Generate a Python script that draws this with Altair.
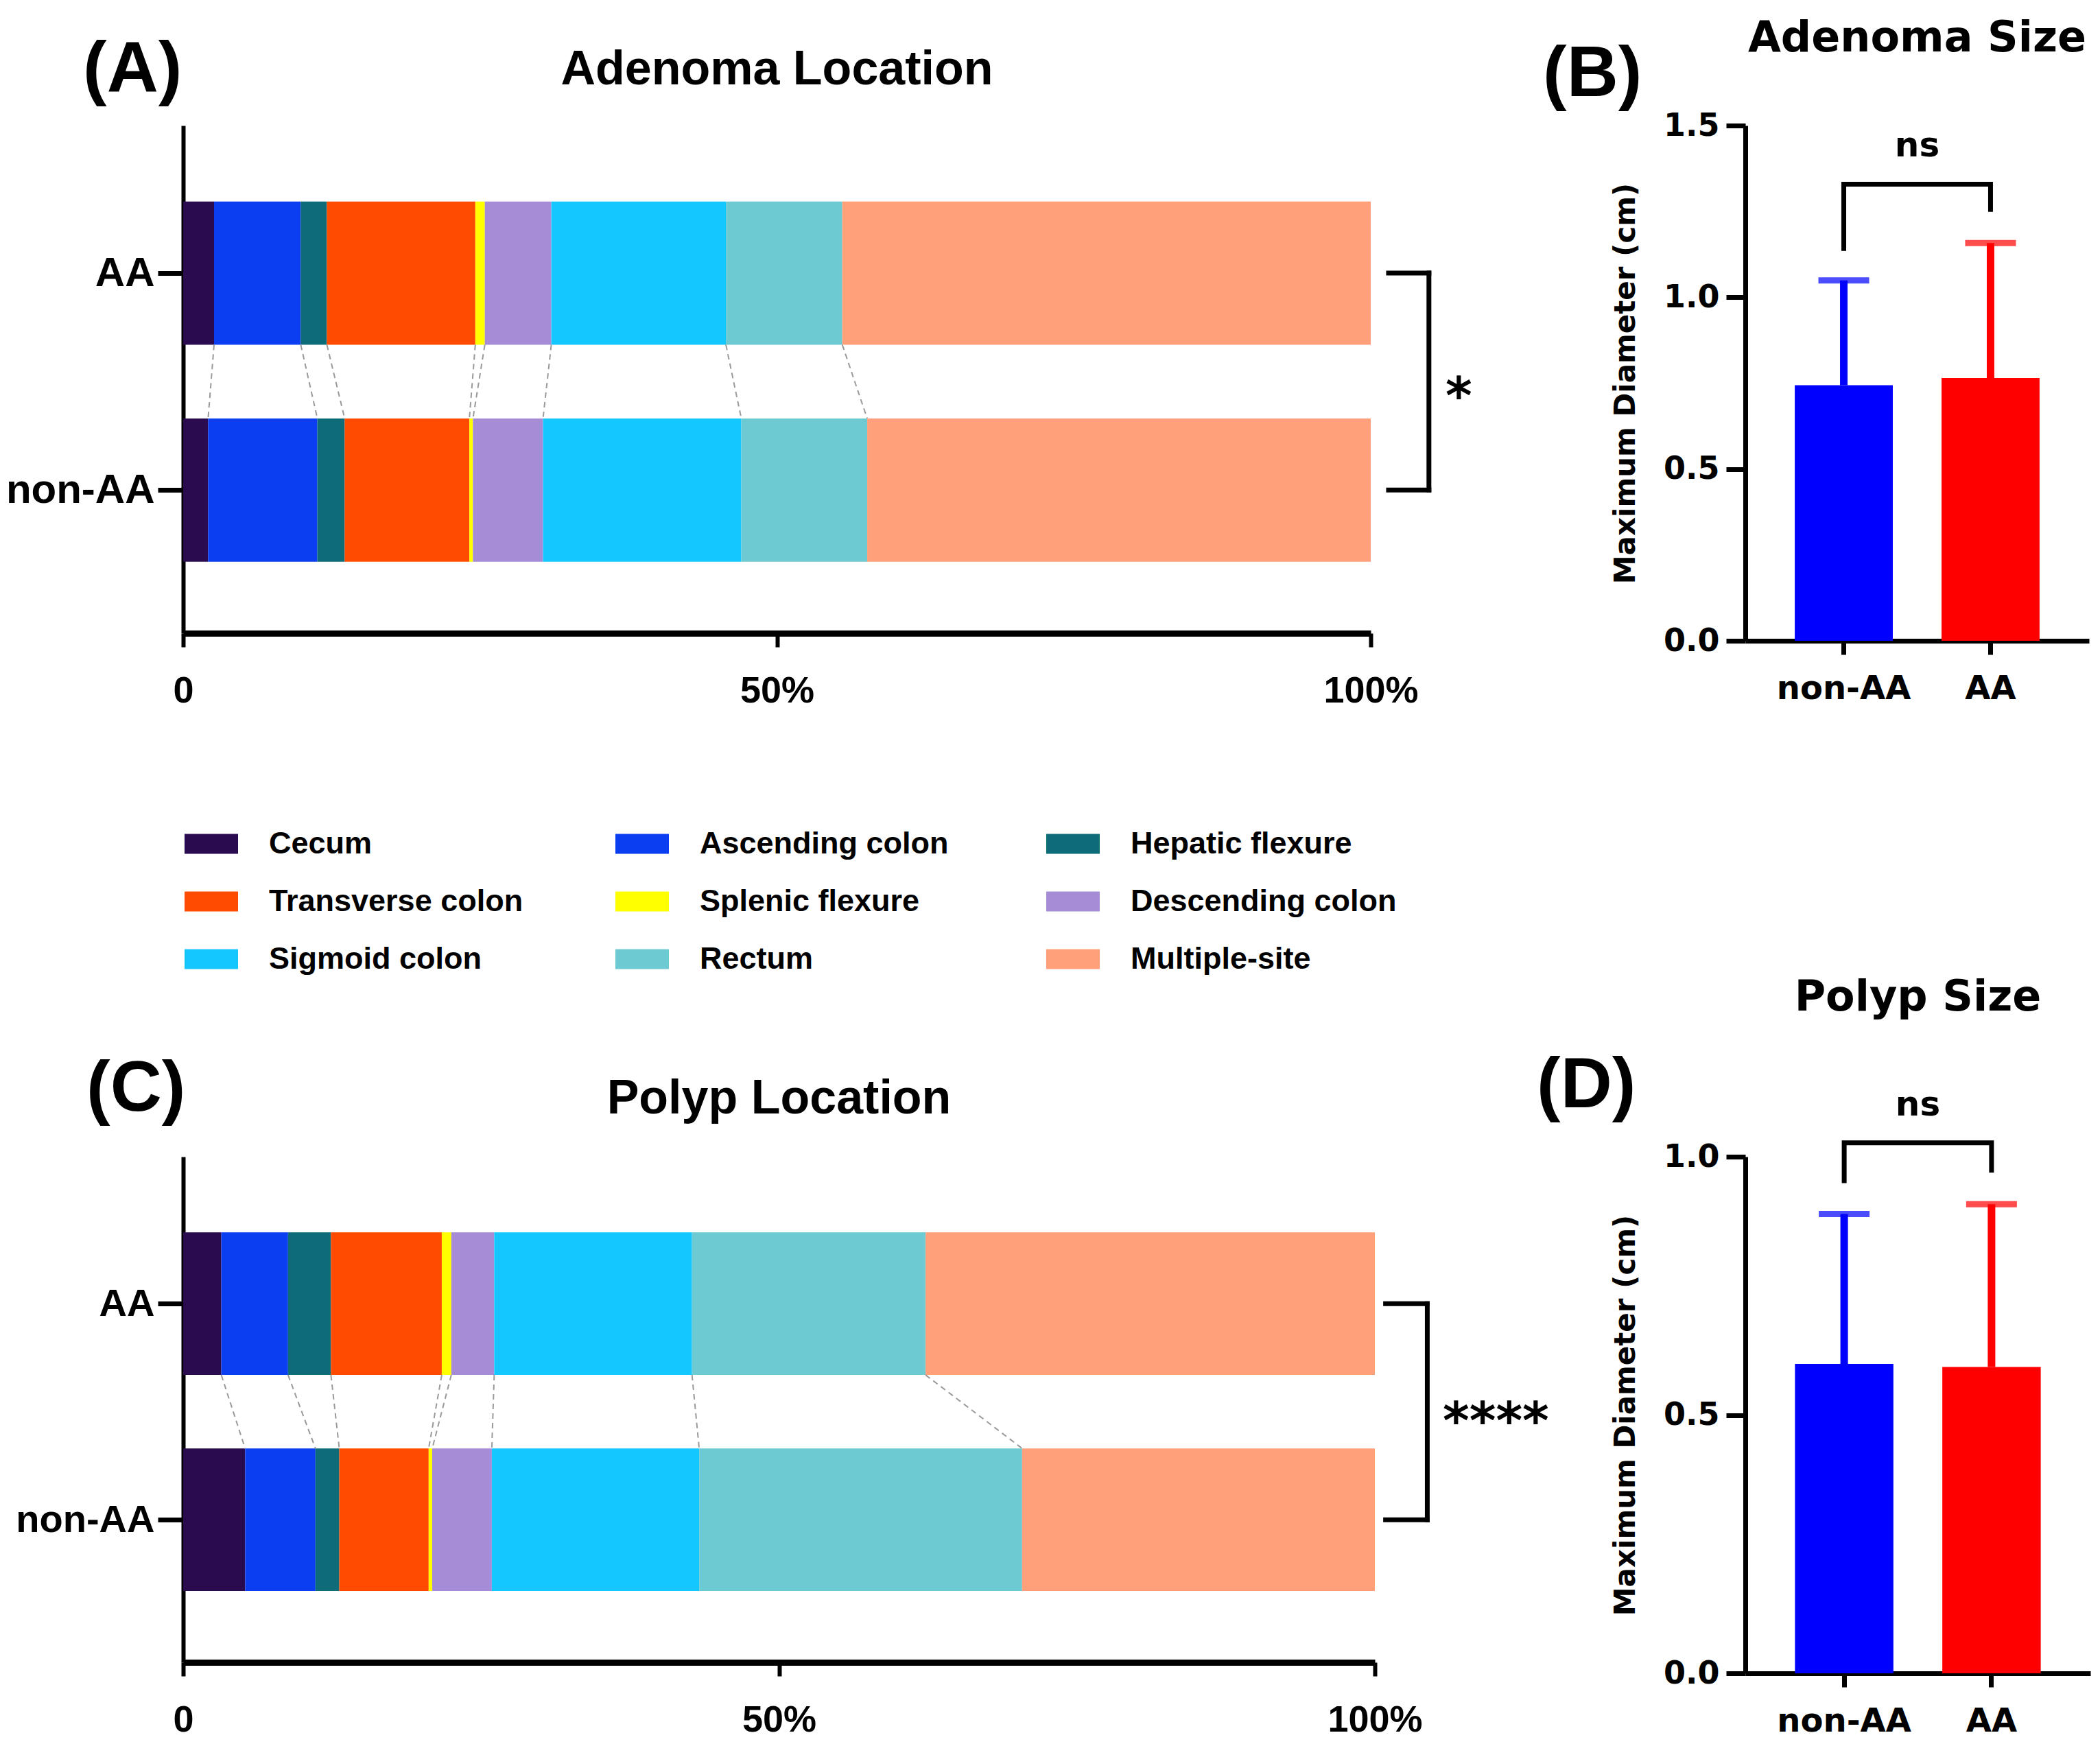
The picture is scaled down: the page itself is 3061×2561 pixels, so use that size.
import altair as alt
import numpy as np
import pandas as pd

# ---------------- data ----------------
locations = ["Cecum", "Ascending colon", "Hepatic flexure", "Transverse colon",
             "Splenic flexure", "Descending colon", "Sigmoid colon", "Rectum", "Multiple-site"]
loc_colors = ["#2a0b50", "#0b3ef0", "#0e6b78", "#ff4b00", "#ffff00",
              "#a68bd6", "#14c8ff", "#6dcad2", "#ffa07a"]

# percentage share of each location
adenoma_aa = [2.6, 7.3, 2.2, 12.5, 0.8, 5.6, 14.7, 9.8, 44.5]
adenoma_non = [2.1, 9.2, 2.3, 10.5, 0.3, 5.9, 16.7, 10.6, 42.4]
polyp_aa = [3.2, 5.6, 3.6, 9.3, 0.8, 3.6, 16.6, 19.6, 37.7]
polyp_non = [5.2, 5.9, 2.0, 7.5, 0.3, 5.0, 17.4, 27.1, 29.6]

size_groups = ["non-AA", "AA"]
bar_colors = ["#0000ff", "#ff0000"]
adenoma_mean = [0.744, 0.765]
adenoma_upper = [1.049, 1.158]
polyp_mean = [0.599, 0.593]
polyp_upper = [0.889, 0.908]
adenoma_legs = [1.135, 1.249]
adenoma_bracket = 1.329
polyp_legs = [0.949, 0.969]
polyp_bracket = 1.027

F_ARIAL = "Liberation Sans"
F_WIDE = "DejaVu Sans"
HALF = 0.33


def text_layer(txt, x, y, font, size, align="left"):
    return alt.Chart(pd.DataFrame(dict(t=[txt]))).mark_text(
        font=font, fontSize=size, fontWeight="bold", align=align,
        baseline="alphabetic", color="black").encode(
        x=alt.value(x), y=alt.value(y), text="t:N")


def location_chart(vals_aa, vals_non, title, title_y, letter, letter_xy,
                   stars, star_x, star_dy, br_x, width, height, legend, label_size):
    rows = []
    for g, pos, vals in [("AA", 2, vals_aa), ("non-AA", 1, vals_non)]:
        cum = 0.0
        for i, (loc, v) in enumerate(zip(locations, vals)):
            rows.append(dict(group=g, location=loc, order=i, start=cum, end=cum + v,
                             lo=pos - HALF, hi=pos + HALF))
            cum += v
    df = pd.DataFrame(rows)
    conn = pd.DataFrame(dict(x=np.cumsum(vals_aa)[:-1], x2=np.cumsum(vals_non)[:-1],
                             y=2 - HALF, y2=1 + HALF))
    brk = pd.DataFrame(dict(x=[br_x[0], br_x[1], br_x[0]], x2=[br_x[1], br_x[1], br_x[1]],
                            y=[2, 2, 1], y2=[2, 1, 1]))

    xs = alt.Scale(domain=[0, 100], nice=False)
    ys = alt.Scale(domain=[0.34, 2.68], nice=False, zero=False)

    bars = alt.Chart(df).mark_rect(strokeWidth=0).encode(
        x=alt.X("start:Q", scale=xs, axis=alt.Axis(
            values=[0, 50, 100], labelExpr="datum.value == 0 ? '0' : datum.value + '%'",
            title=None, grid=False, tickSize=20, tickWidth=6, domainWidth=9,
            labelFontSize=54, labelFont=F_ARIAL, labelFontWeight="bold",
            labelPadding=37, labelFlush=False, labelColor="black", labelLimit=0,
            domainColor="black", tickColor="black")),
        x2="end:Q",
        y=alt.Y("lo:Q", scale=ys, axis=alt.Axis(
            values=[1, 2], labelExpr="datum.value == 2 ? 'AA' : 'non-AA'",
            title=None, grid=False, tickSize=37, tickWidth=7, domainWidth=6,
            labelFontSize=label_size, labelFont=F_ARIAL, labelFontWeight="bold",
            labelPadding=5, labelLimit=0, labelColor="black", domainColor="black",
            tickColor="black")),
        y2="hi:Q",
        color=alt.Color("location:N", scale=alt.Scale(domain=locations, range=loc_colors),
                        legend=legend),
        tooltip=["group:N", "location:N"],
    )
    connectors = alt.Chart(conn).mark_rule(color="#9a9a9a", strokeWidth=2,
                                           strokeDash=[8, 6]).encode(
        x="x:Q", x2="x2:Q", y="y:Q", y2="y2:Q")
    bracket = alt.Chart(brk).mark_rule(color="black", strokeWidth=7, strokeCap="square",
                                       clip=False).encode(
        x="x:Q", x2="x2:Q", y="y:Q", y2="y2:Q")
    star = alt.Chart(pd.DataFrame(dict(t=[stars]))).mark_text(
        font=F_WIDE, fontSize=74, fontWeight="bold", align="left",
        baseline="alphabetic", dy=star_dy, clip=False).encode(
        x=alt.datum(star_x), y=alt.datum(1.5), text="t:N")
    label = text_layer(letter, letter_xy[0], letter_xy[1], F_ARIAL, 104)
    ttl = text_layer(title, width / 2, title_y, F_ARIAL, 70, align="center")

    return alt.layer(bars, connectors, bracket, star, label, ttl).properties(
        width=width, height=height)


def size_chart(means, uppers, legs, bracket_y, ns_y, y_domain, y_values, title,
               title_y, letter, letter_xy, width, height):
    df = pd.DataFrame(dict(group=size_groups, mean=means, upper=uppers))
    xenc = alt.X("group:N", sort=size_groups,
                 scale=alt.Scale(paddingInner=0.332, paddingOuter=0.337),
                 axis=alt.Axis(title=None, labelAngle=0, tickSize=20, tickWidth=7,
                               domainWidth=7, labelFontSize=48, labelFont=F_WIDE,
                               labelFontWeight="bold", labelPadding=26, labelColor="black",
                               labelLimit=0, domainColor="black", tickColor="black"))
    ys = alt.Scale(domain=y_domain, nice=False)
    cenc = alt.Color("group:N", scale=alt.Scale(domain=size_groups, range=bar_colors),
                     legend=None)
    base = alt.Chart(df).encode(x=xenc, color=cenc)
    bars = base.mark_bar().encode(
        y=alt.Y("mean:Q", scale=ys, axis=alt.Axis(
            values=y_values, format=".1f", title="Maximum Diameter (cm)",
            titleFont=F_WIDE, titleFontSize=42, titleFontWeight="bold", titleColor="black",
            titlePadding=33, grid=False, tickSize=28, tickWidth=7, domainWidth=7,
            labelFontSize=46, labelFont=F_WIDE, labelFontWeight="bold", labelPadding=10,
            labelColor="black", domainColor="black", tickColor="black")))
    err = base.mark_rule(strokeWidth=11).encode(y="mean:Q", y2="upper:Q")
    cap = base.mark_tick(thickness=9, size=74).encode(y="upper:Q")

    br = pd.DataFrame(dict(group=["non-AA", "non-AA", "AA", "AA"],
                           y=[legs[0], bracket_y, bracket_y, legs[1]], o=[0, 1, 2, 3]))
    bracket = alt.Chart(br).mark_line(color="black", strokeWidth=7, strokeJoin="miter",
                                      clip=False).encode(
        x=alt.X("group:N", sort=size_groups), y="y:Q", order="o:Q")
    ns = alt.Chart(pd.DataFrame(dict(t=["ns"]))).mark_text(
        font=F_WIDE, fontSize=50, fontWeight="bold", baseline="middle", clip=False).encode(
        x=alt.value(width / 2), y=alt.datum(ns_y), text="t:N")
    label = text_layer(letter, letter_xy[0], letter_xy[1], F_ARIAL, 104)
    ttl = text_layer(title, width / 2, title_y, F_WIDE, 62, align="center")
    return alt.layer(bars, err, cap, bracket, ns, label, ttl).properties(
        width=width, height=height)


legend_a = alt.Legend(
    title=None, orient="none", legendX=2, legendY=1008, columns=3, direction="horizontal",
    gridAlign="all", symbolType="M-1,-0.37L1,-0.37L1,0.37L-1,0.37Z", symbolSize=6084,
    symbolStrokeWidth=0, symbolOpacity=1, labelFont=F_ARIAL, labelFontSize=45,
    labelFontWeight="bold", labelColor="black", labelOffset=45, labelLimit=0,
    columnPadding=117, rowPadding=22, padding=0)

chart_a = location_chart(adenoma_aa, adenoma_non, "Adenoma Location", -60, "(A)", (-146, -50),
                         "*", 106.3, 47, (101.5, 104.9), 1731, 740, legend_a, 60)
chart_b = size_chart(adenoma_mean, adenoma_upper, adenoma_legs, adenoma_bracket, 1.44,
                     [0, 1.5], [0, 0.5, 1.0, 1.5], "Adenoma Size", -108, "(B)", (-295, -43),
                     501, 751)
chart_c = location_chart(polyp_aa, polyp_non, "Polyp Location", -63, "(C)", (-141, -67),
                         "****", 105.7, 39, (100.9, 104.4), 1737, 737, None, 56)
chart_d = size_chart(polyp_mean, polyp_upper, polyp_legs, polyp_bracket, 1.10,
                     [0, 1.0], [0, 0.5, 1.0], "Polyp Size", -213, "(D)", (-304, -72),
                     503, 753)

chart = alt.concat(chart_a, chart_b, chart_c, chart_d, columns=2,
                   spacing={"row": 752, "column": 540}, bounds="flush", align="each"
                   ).resolve_scale(color="independent").properties(
    padding={"left": 0, "top": 17, "right": 5, "bottom": 5},
    background="white",
).configure_view(stroke=None)

chart.save("out.html", embed_options={"renderer": "svg", "actions": False})
